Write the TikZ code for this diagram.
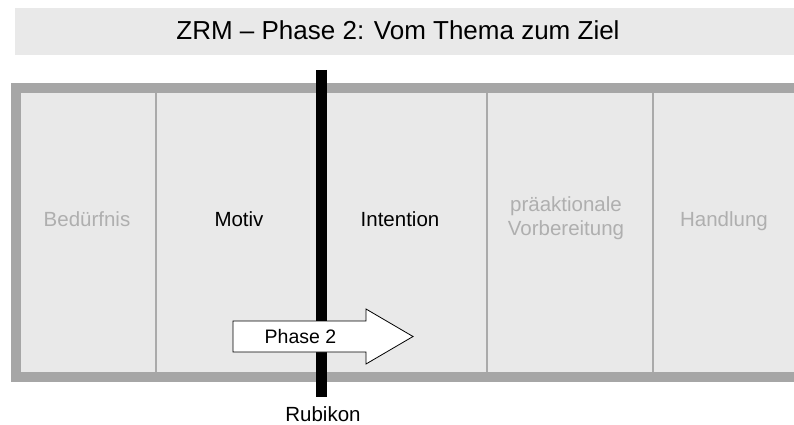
\documentclass[tikz,border=0pt]{standalone}
\usepackage{fontspec}
\setmainfont{Liberation Sans}
\definecolor{panel}{HTML}{E9E9E9}
\definecolor{frame}{HTML}{A6A6A6}
\definecolor{divider}{HTML}{AAAAAA}
\definecolor{faint}{HTML}{AFAFAF}
\tikzset{
  lbl/.style={anchor=base, inner sep=0pt, font=\fontsize{20.5}{23.5}\selectfont, align=center},
  faintlbl/.style={lbl, text=faint},
  divline/.style={draw=divider, line width=2.5pt},
  rubikonline/.style={draw=black, line width=11pt},
  arrowshape/.style={draw=black, fill=white, line width=0.8pt, line join=miter}
}
\begin{document}
\begin{tikzpicture}[x=1pt, y=-1pt]
\useasboundingbox (0,0) rectangle (794,425);
\clip (0,0) rectangle (794,425);
% title bar
\fill[panel] (15,8) rectangle (800,55);
\node[anchor=base, inner sep=0pt, font=\fontsize{26}{30}\selectfont] (title) at (398,40) {ZRM -- Phase 2: Vom Thema zum Ziel};
% frame
\fill[panel] (15,88) rectangle (800,377);
\draw[draw=frame, line width=10pt] (16,88) rectangle (805,377);
% dividers
\coordinate (d1t) at (156,93); \coordinate (d1b) at (156,372);
\coordinate (d2t) at (322,93); \coordinate (d2b) at (322,372);
\coordinate (d3t) at (487,93); \coordinate (d3b) at (487,372);
\coordinate (d4t) at (653,93); \coordinate (d4b) at (653,372);
\draw[divline] (d1t) -- (d1b);
\draw[divline] (d2t) -- (d2b);
\draw[divline] (d3t) -- (d3b);
\draw[divline] (d4t) -- (d4b);
% labels
\node[faintlbl] (bed) at (87,226) {Bedürfnis};
\node[lbl] (mot) at (239,226) {Motiv};
\node[lbl] (int) at (400,226) {Intention};
\node[faintlbl] (pra) at (566,235) {präaktionale\\Vorbereitung};
\node[faintlbl] (han) at (724,226) {Handlung};
% Rubikon
\coordinate (rt) at (321.5,70);
\coordinate (rb) at (321.5,397);
\draw[rubikonline] (rt) -- (rb);
\node[anchor=base, inner sep=0pt, font=\fontsize{20.5}{23}\selectfont] (rub) at (323,421) {Rubikon};
% arrow (on top of the Rubikon line)
\draw[arrowshape] (233,321) -- (366,321) -- (366,309) -- (413,336.5) -- (366,364) -- (366,352) -- (233,352) -- cycle;
\node[anchor=base, inner sep=0pt, font=\fontsize{19.5}{22}\selectfont] (ph) at (300.5,343) {Phase 2};
\end{tikzpicture}
\end{document}
